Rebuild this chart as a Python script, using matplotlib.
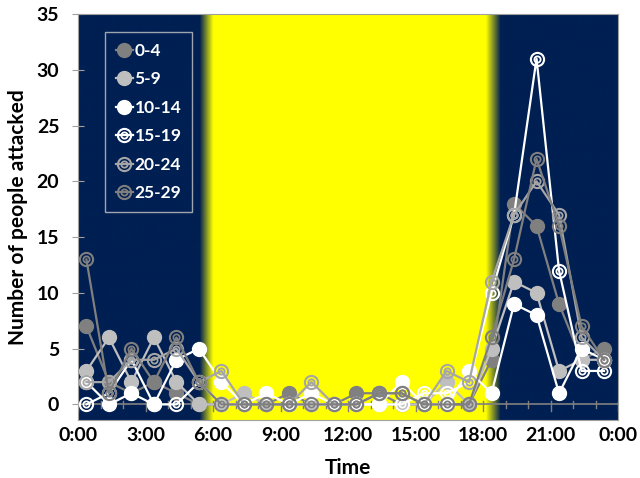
import numpy as np
import matplotlib
matplotlib.use("Agg")
import matplotlib.pyplot as plt
from matplotlib.lines import Line2D
from matplotlib.legend_handler import HandlerTuple

plt.rcParams['font.family'] = ['Lato', 'DejaVu Sans']
plt.rcParams['font.weight'] = 'bold'

# hour of day for each count (0:00 .. 23:00)
hours = np.arange(24)
# points sit a little to the right of the hour tick in the original
x_offset = 0.37

age_0_4 = [7, 2, 1, 2, 1, 0, 0, 0, 0, 1, 0, 0, 1, 1, 0, 0, 0, 0, 4, 18, 16, 9, 4, 5]
age_5_9 = [3, 6, 2, 6, 2, 0, 0, 1, 0, 0, 0, 0, 0, 0, 0, 0, 2, 0, 5, 11, 10, 3, 4, 4]
age_10_14 = [2, 0, 1, 0, 4, 5, 2, 0, 1, 0, 1, 0, 0, 0, 2, 0, 0, 3, 1, 9, 8, 1, 5, 4]
age_15_19 = [0, 1, 4, 0, 0, 2, 0, 0, 0, 0, 0, 0, 0, 0, 0, 1, 1, 2, 10, 17, 31, 12, 3, 3]
age_20_24 = [2, 2, 4, 4, 5, 2, 3, 0, 0, 0, 2, 0, 0, 1, 1, 0, 3, 2, 11, 17, 20, 17, 6, 4]
age_25_29 = [13, 1, 5, 2, 6, 2, 0, 0, 0, 0, 0, 0, 0, 1, 1, 0, 0, 0, 6, 13, 22, 16, 7, 4]

labels = ['0-4', '5-9', '10-14', '15-19', '20-24', '25-29']
series = [age_0_4, age_5_9, age_10_14, age_15_19, age_20_24, age_25_29]
colors = ['#808080', '#bfbfbf', '#ffffff', '#ffffff', '#a6a6a6', '#7f7f7f']
ring = [False, False, False, True, True, True]

xtick_hours = [0, 3, 6, 9, 12, 15, 18, 21, 24]
xtick_labels = ['0:00', '3:00', '6:00', '9:00', '12:00', '15:00', '18:00', '21:00', '0:00']

navy = np.array([0, 31, 82]) / 255.0
yellow = np.array([255, 255, 0]) / 255.0
day_start = (5.4, 6.0)    # dark -> yellow fade
day_end = (18.1, 18.75)   # yellow -> dark fade

fig = plt.figure(figsize=(6.4, 4.78), dpi=100)
ax = fig.add_axes([0.122, 0.1213, 0.844, 0.8494])
ylo, yhi = -1.4, 35

# background: night / day / night with soft edges
xs = np.linspace(0, 24, 2401)
w = np.clip((xs - day_start[0]) / (day_start[1] - day_start[0]), 0, 1) * \
    np.clip((day_end[1] - xs) / (day_end[1] - day_end[0]), 0, 1)
bg = navy[None, :] * (1 - w[:, None]) + yellow[None, :] * w[:, None]
ax.imshow(bg[None, :, :], extent=[0, 24, ylo, yhi], aspect='auto', zorder=0,
          interpolation='bilinear')

# axis line at zero with hourly ticks
ax.axhline(0, color='#808080', lw=1.2, zorder=1)
for h in range(25):
    lo = -0.55 if h % 3 == 0 else -0.3
    ax.plot([h, h], [lo, 0.3], color='#808080', lw=1, zorder=1)

handles = []
for vals, lab, c, r in zip(series, labels, colors, ring):
    xx = hours + x_offset
    if r:
        ax.plot(xx, vals, color=c, lw=1.6, marker='o', ms=9.5, mfc='none',
                mec=c, mew=1.5, zorder=3)
        ax.plot(xx, vals, ls='none', marker='o', ms=4.5, mfc='none',
                mec=c, mew=1.3, zorder=3)
        h1 = Line2D([], [], color=c, lw=1.6, marker='o', ms=9.5, mfc='none', mec=c, mew=1.5)
        h2 = Line2D([], [], ls='none', marker='o', ms=4.5, mfc='none', mec=c, mew=1.3)
        handles.append((h1, h2))
    else:
        ax.plot(xx, vals, color=c, lw=1.6, marker='o', ms=10, mfc=c,
                mec=c, zorder=3)
        handles.append(Line2D([], [], color=c, lw=1.6, marker='o', ms=10, mfc=c, mec=c))

ax.set_xlim(0, 24)
ax.set_ylim(ylo, yhi)
ax.set_yticks(range(0, 36, 5))
ax.set_xticks(xtick_hours)
ax.set_xticklabels(xtick_labels)
ax.tick_params(axis='y', direction='inout', length=9, color='#a0a0a0',
               labelsize=14, pad=9)
ax.tick_params(axis='x', length=0, labelsize=14, pad=5)
for lab in ax.get_xticklabels() + ax.get_yticklabels():
    lab.set_fontweight('bold')
for s in ax.spines.values():
    s.set_color('#a0a0a0')
    s.set_linewidth(0.8)

ax.set_xlabel('Time', fontsize=15, fontweight='bold', labelpad=10)
ax.set_ylabel('Number of people attacked', fontsize=15, fontweight='bold', labelpad=6)

leg = ax.legend(handles, labels, loc='upper left', bbox_to_anchor=(0.05, 0.955),
                handler_map={tuple: HandlerTuple(ndivide=1)},
                handlelength=1.0, handletextpad=0.1, labelspacing=0.72,
                fontsize=12.5, frameon=True, fancybox=False, borderpad=0.6,
                borderaxespad=0)
leg.get_frame().set_facecolor(navy)
leg.get_frame().set_edgecolor('#c8c8c8')
leg.get_frame().set_linewidth(1)
for t in leg.get_texts():
    t.set_color('white')
    t.set_fontweight('bold')

fig.savefig('out.png', dpi=100)
